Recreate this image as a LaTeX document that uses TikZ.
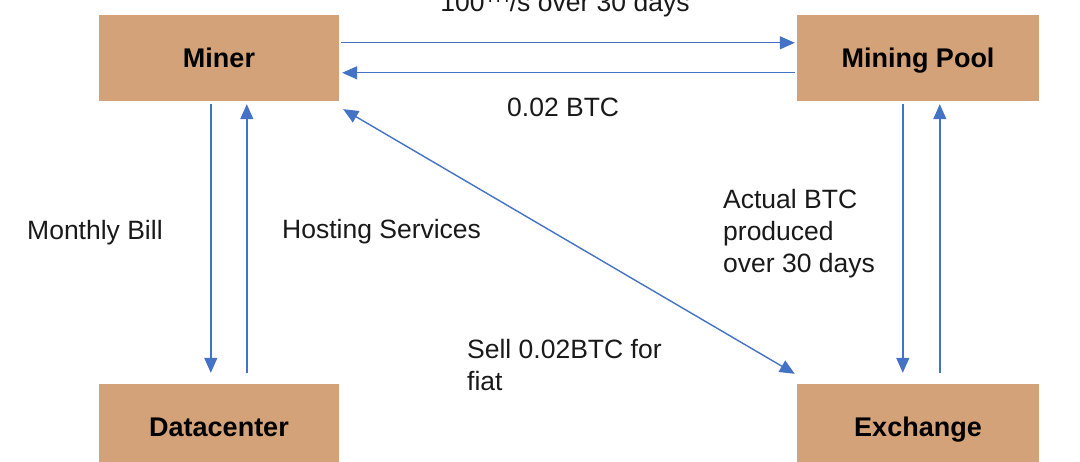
\documentclass[tikz,border=0pt]{standalone}
\usepackage{fontspec}
\setmainfont{Liberation Sans}
\usetikzlibrary{arrows.meta}
\definecolor{boxfill}{RGB}{212,162,120}
\definecolor{arrblue}{RGB}{68,114,196}
\begin{document}
\begin{tikzpicture}[x=1pt,y=-1pt,
  box/.style={fill=boxfill,minimum width=240pt,minimum height=86pt,inner sep=0pt,
    text height=19.5pt,text depth=0pt,
    font=\fontsize{27}{32}\selectfont\bfseries},
  lbl/.style={anchor=base west,inner sep=0pt,align=left,
    font=\fontsize{26.5}{32}\selectfont,text=black!90},
  arr/.style={draw=arrblue,line width=1.4pt,-{Triangle[length=15pt,width=13pt]}},
  darr/.style={draw=arrblue,line width=1.4pt,{Triangle[length=15pt,width=13pt]}-{Triangle[length=15pt,width=13pt]}}]
\useasboundingbox (0,0) rectangle (1080,462);
\node[box] (miner) at (219,58) {Miner};
\node[box,minimum width=242pt] (pool) at (918,58) {Mining Pool};
\node[box] (dc) at (219,427) {Datacenter};
\node[box,minimum width=242pt] (ex) at (918,427) {Exchange};
% horizontal
\draw[arr] ([xshift=2pt,yshift=-28pt]miner.north east) -- ([xshift=-2pt,yshift=-28pt]pool.north west);
\draw[arr] ([xshift=-2pt,yshift=-58pt]pool.north west) -- ([xshift=3pt,yshift=-58pt]miner.north east);
% miner - datacenter
\draw[arr] ([xshift=112pt,yshift=-3pt]miner.south west) -- ([xshift=112pt,yshift=11pt]dc.north west);
\draw[arr] ([xshift=148pt,yshift=11pt]dc.north west) -- ([xshift=148pt,yshift=-3pt]miner.south west);
% pool - exchange
\draw[arr] ([xshift=106pt,yshift=-3pt]pool.south west) -- ([xshift=106pt,yshift=11pt]ex.north west);
\draw[arr] ([xshift=143pt,yshift=11pt]ex.north west) -- ([xshift=143pt,yshift=-3pt]pool.south west);
% diagonal
\draw[darr] ([xshift=4pt,yshift=-8pt]miner.south east) -- ([xshift=-2pt,yshift=10pt]ex.north west);
% labels
\node[lbl,anchor=base] (tlbl) at (565,12) {100\textsuperscript{TH}/s over 30 days};
\node[lbl] (btc) at (507,117) {0.02 BTC};
\node[lbl] (bill) at (27,240) {Monthly Bill};
\node[lbl] (host) at (282,239) {Hosting Services};
\node[lbl] (act) at (723,273) {Actual BTC\\produced\\over 30 days};
\node[lbl] (sell) at (467,391) {Sell 0.02BTC for\\fiat};
\end{tikzpicture}
\end{document}
